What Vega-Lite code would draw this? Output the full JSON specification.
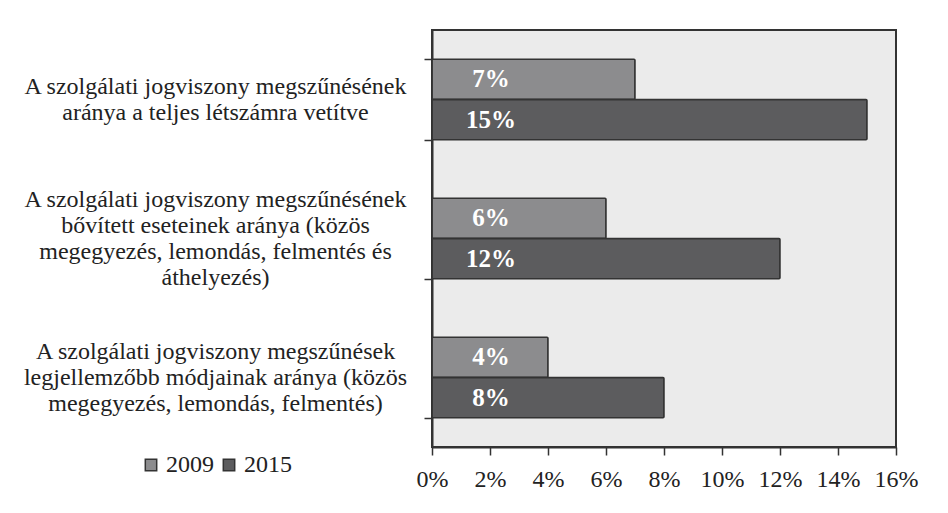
{
  "$schema": "https://vega.github.io/schema/vega-lite/v6.json",
  "width": 464,
  "height": 417,
  "autosize": {"type": "none"},
  "padding": {"left": 432, "top": 30, "right": 52, "bottom": 66},
  "background": "white",
  "config": {
    "font": "Liberation Serif",
    "view": {"fill": "#ebebeb", "stroke": "#333333", "strokeWidth": 2}
  },
  "data": {
    "values": [
      {"cat": "A szolgálati jogviszony megszűnésének|aránya a teljes létszámra vetítve", "order": 1, "year": "2009", "value": 0.07, "label": "7%"},
      {"cat": "A szolgálati jogviszony megszűnésének|aránya a teljes létszámra vetítve", "order": 1, "year": "2015", "value": 0.15, "label": "15%"},
      {"cat": "A szolgálati jogviszony megszűnésének|bővített eseteinek aránya (közös|megegyezés, lemondás, felmentés és|áthelyezés)", "order": 2, "year": "2009", "value": 0.06, "label": "6%"},
      {"cat": "A szolgálati jogviszony megszűnésének|bővített eseteinek aránya (közös|megegyezés, lemondás, felmentés és|áthelyezés)", "order": 2, "year": "2015", "value": 0.12, "label": "12%"},
      {"cat": "A szolgálati jogviszony megszűnések|legjellemzőbb módjainak aránya (közös|megegyezés, lemondás, felmentés)", "order": 3, "year": "2009", "value": 0.04, "label": "4%"},
      {"cat": "A szolgálati jogviszony megszűnések|legjellemzőbb módjainak aránya (közös|megegyezés, lemondás, felmentés)", "order": 3, "year": "2015", "value": 0.08, "label": "8%"}
    ]
  },
  "encoding": {
    "y": {
      "field": "cat",
      "type": "nominal",
      "sort": {"field": "order"},
      "scale": {"paddingInner": 0.42, "paddingOuter": 0.21},
      "axis": {
        "title": null,
        "labelExpr": "split(datum.label, '|')",
        "labelAlign": "center",
        "labelBaseline": "middle",
        "labelOffset": {"expr": "-(length(split(datum.value, '|')) - 1) * 13"},
        "labelPadding": 209,
        "labelLimit": 0,
        "labelFontSize": 24,
        "labelLineHeight": 26,
        "labelColor": "#222222",
        "tickBand": "extent",
        "tickSize": 8,
        "tickColor": "#333333",
        "tickWidth": 1.5,
        "domainColor": "#333333",
        "domainWidth": 2
      }
    },
    "yOffset": {"field": "year", "type": "nominal", "scale": {"paddingInner": 0, "paddingOuter": 0}}
  },
  "layer": [
    {
      "mark": {"type": "bar", "stroke": "#333333", "strokeWidth": 1.5, "cornerRadius": 1},
      "encoding": {
        "x": {
          "field": "value",
          "type": "quantitative",
          "scale": {"domain": [0, 0.16], "nice": false},
          "axis": {
            "title": null,
            "format": ".0%",
            "values": [0, 0.02, 0.04, 0.06, 0.08, 0.1, 0.12, 0.14, 0.16],
            "grid": false,
            "labelFlush": false,
            "labelOverlap": false,
            "labelFontSize": 24,
            "labelColor": "#222222",
            "labelPadding": 12,
            "tickSize": 8,
            "tickColor": "#333333",
            "tickWidth": 1.5,
            "domainColor": "#333333",
            "domainWidth": 2
          }
        },
        "color": {
          "field": "year",
          "type": "nominal",
          "scale": {"domain": ["2009", "2015"], "range": ["#8c8c8e", "#5c5c5e"]},
          "legend": {
            "title": null,
            "orient": "none",
            "legendX": -293,
            "legendY": 423,
            "direction": "horizontal",
            "symbolType": "square",
            "symbolSize": 130,
            "symbolStrokeColor": "#333333",
            "symbolStrokeWidth": 1.5,
            "labelFontSize": 24,
            "labelColor": "#222222",
            "labelOffset": 3,
            "columnPadding": 3
          }
        }
      }
    },
    {
      "mark": {"type": "text", "color": "white", "fontWeight": "bold", "fontSize": 25, "align": "center", "baseline": "middle", "dx": 59},
      "encoding": {
        "x": {"datum": 0, "type": "quantitative"},
        "text": {"field": "label"}
      }
    }
  ]
}
